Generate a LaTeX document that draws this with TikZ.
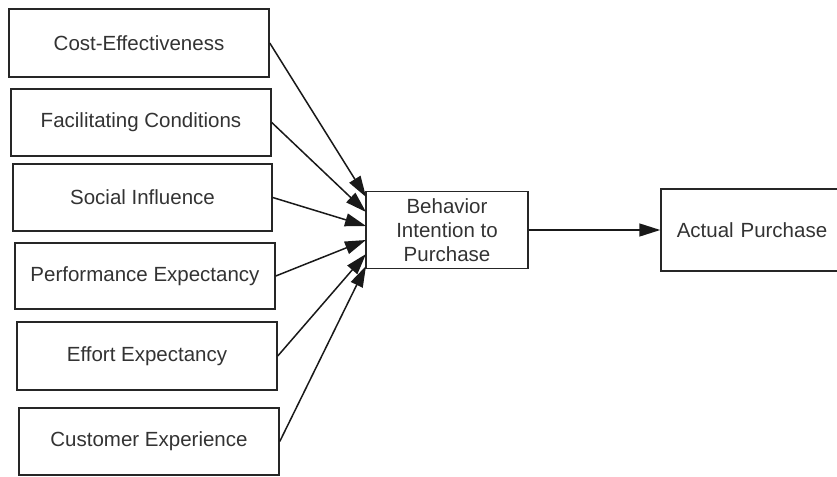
\documentclass[tikz,border=0pt]{standalone}
\usepackage{fontspec}
\setmainfont{Liberation Sans}
\usetikzlibrary{arrows.meta}
\begin{document}
\begin{tikzpicture}[x=1pt,y=-1pt,
  box/.style={draw=black!85, line width=1.5pt, rectangle, inner sep=0pt, align=center,
    font=\fontsize{20.5}{24}\selectfont, text=black!80},
  conn/.style={line width=1.5pt, black!90, -{Triangle[length=21pt,width=13pt]}}]
\useasboundingbox (0,0) rectangle (837,476);
\fill[white] (0,0) rectangle (837,476);
\node[box, minimum width=260pt, minimum height=68pt] (c1) at (139,43) {Cost-Effectiveness};
\node[box, minimum width=260pt, minimum height=67pt] (c2) at (141,122.5) {Facilitating Conditions};
\node[box, minimum width=259pt, minimum height=67pt] (c3) at (142.5,197.5) {Social Influence};
\node[box, minimum width=260pt, minimum height=66pt] (c4) at (145,276) {Performance Expectancy};
\node[box, minimum width=260pt, minimum height=68pt] (c5) at (147,356) {Effort Expectancy};
\node[box, minimum width=260pt, minimum height=67pt] (c6) at (149,441.5) {Customer Experience};
\node[box, minimum width=162pt, minimum height=77pt] (bi) at (447,230) {Behavior\\Intention to\\Purchase};
\node[box, minimum width=185pt, minimum height=82pt, text width=185pt] (ap) at (753.5,230) {\hspace*{-3pt}Actual Purchase};
\coordinate (t1) at (366,197);
\coordinate (t2) at (366,212);
\coordinate (t3) at (366,226);
\coordinate (t4) at (366,240);
\coordinate (t5) at (366,254);
\coordinate (t6) at (366,266);
\draw[conn] (c1.east) -- (t1);
\draw[conn] (c2.east) -- (t2);
\draw[conn] (c3.east) -- (t3);
\draw[conn] (c4.east) -- (t4);
\draw[conn] (c5.east) -- (t5);
\draw[conn] (c6.east) -- (t6);
\draw[conn] (bi.east) -- (ap.west);
\end{tikzpicture}
\end{document}
